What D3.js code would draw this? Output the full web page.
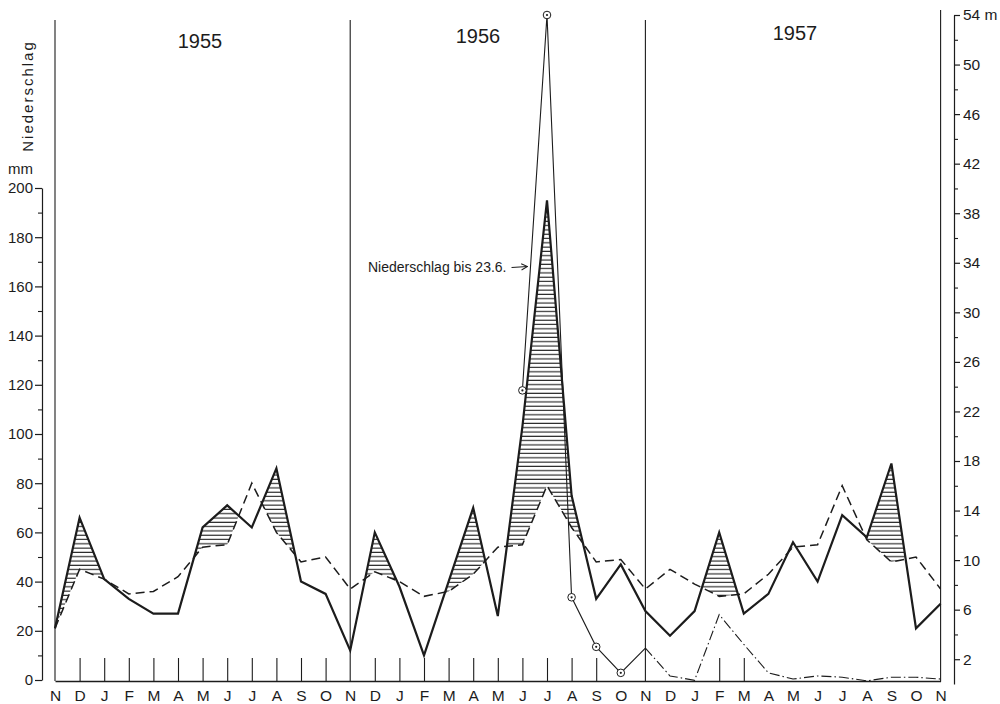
<!DOCTYPE html>
<html>
<head>
<meta charset="utf-8">
<script src="https://cdn.jsdelivr.net/npm/d3@7"></script>
<style>
  body { margin: 0; background: #fff; }
  svg { display: block; }
  text { font-family: "Liberation Sans", Arial, sans-serif; fill: #1c1c1c; }
</style>
</head>
<body>
<svg id="chart" width="1000" height="704"></svg>
<script>
"use strict";

/* ── Data: Nov 1954 … Nov 1957, one value per month ── */
const monthCycle = ["N","D","J","F","M","A","M","J","J","A","S","O"];
const months = [...monthCycle, ...monthCycle, ...monthCycle, "N"];

const years = ["1955", "1956", "1957"];

// monthly precipitation, mm (thick line)
const niederschlag = [21, 66, 41, 33, 27, 27, 62, 71, 62, 86, 40, 35,
                      12, 60, 38, 10, 40, 70, 26, 103, 195, 75, 33, 47,
                      28, 18, 28, 60, 27, 35, 56, 40, 67, 58, 88, 21, 31];

// long-term mean, mm (dashed line)
const mittel = [21, 45, 41, 35, 36, 42, 54, 55, 80, 60, 48, 50,
                37, 44, 40, 34, 36, 43, 54, 55, 79, 62, 48, 49,
                37, 45, 39, 34, 35, 43, 54, 55, 79, 57, 48, 50, 37];

// thin line, right axis in m (starts June 1956)
const pegel = [null, null, null, null, null, null, null, null, null, null, null, null,
               null, null, null, null, null, null, null, 23.7, 54, 7.0, 3.0, 0.9,
               2.9, 0.65, 0.3, 5.6, 3.2, 0.9, 0.4, 0.65, 0.55, 0.25, 0.55, 0.55, 0.4];

const leftTicks  = d3.range(0, 201, 20);
const leftMinor  = d3.range(10, 200, 20);
const rightTicks = d3.range(2, 55, 4);
const rightMinor = d3.range(4, 54, 4);

/* ── Setup ── */
const ink = "#1c1c1c";
const svg = d3.select("#chart");

const x  = d3.scaleLinear().domain([0, months.length - 1]).range([55, 940.6]);
const yL = d3.scaleLinear().domain([0, 200]).range([680, 188]);
const yR = d3.scaleLinear().domain([0, 54]).range([684, 15]);

const base = yL(0) + 1;

/* ── Hatch pattern ── */
const defs = svg.append("defs");
defs.append("pattern")
  .attr("id", "hatch")
  .attr("patternUnits", "userSpaceOnUse")
  .attr("width", 10).attr("height", 4.3)
  .append("line")
  .attr("x1", 0).attr("x2", 10).attr("y1", 2).attr("y2", 2)
  .attr("stroke", ink).attr("stroke-width", 1.1);

defs.append("clipPath").attr("id", "below-solid")
  .append("path")
  .attr("d", d3.area().x((d, i) => x(i)).y0(base).y1(d => yL(d))(niederschlag));

/* ── Year separators ── */
[0, 12, 24, 36].forEach((m, k) => {
  svg.append("line")
    .attr("x1", x(m)).attr("x2", x(m))
    .attr("y1", k === 3 ? 10 : 20).attr("y2", base)
    .attr("stroke", ink).attr("stroke-width", 1.1);
});

svg.selectAll(".year")
  .data(years)
  .join("text")
  .attr("class", "year")
  .attr("x", (d, i) => [200, 478, 795][i])
  .attr("y", (d, i) => [48, 43, 40][i])
  .attr("text-anchor", "middle")
  .attr("font-size", "20px")
  .text(d => d);

/* ── Bottom axis (baseline + month letters) ── */
svg.append("g")
  .attr("transform", `translate(0,${base})`)
  .call(d3.axisBottom(x).tickValues(d3.range(months.length)).tickSize(0).tickSizeOuter(0)
    .tickPadding(9).tickFormat(i => months[i]))
  .call(g => {
    g.select(".domain").attr("stroke", ink).attr("stroke-width", 1.4);
    g.selectAll(".tick text").attr("font-size", "15.5px").attr("fill", ink);
  });

// short upward month marks
svg.append("g")
  .attr("transform", `translate(0,${base})`)
  .call(d3.axisBottom(x)
    .tickValues([1,2,3,4,5,6,7,8,9,10,11,13,14,15,16,17,18,19,20,21,22,27,28])
    .tickSize(-23).tickSizeOuter(0).tickFormat(""))
  .call(g => {
    g.select(".domain").remove();
    g.selectAll(".tick line").attr("stroke", ink).attr("stroke-width", 1.1);
  });

/* ── Left axis ── */
svg.append("g")
  .attr("transform", "translate(42,0)")
  .call(d3.axisLeft(yL).tickValues(leftTicks).tickSize(7).tickSizeOuter(0).tickPadding(2))
  .call(g => {
    g.select(".domain").attr("stroke", ink).attr("stroke-width", 1.2);
    g.selectAll(".tick line").attr("stroke", ink).attr("stroke-width", 1.2);
    g.selectAll(".tick text").attr("font-size", "15px").attr("fill", ink);
  });
svg.append("g")
  .attr("transform", "translate(42,0)")
  .call(d3.axisLeft(yL).tickValues(leftMinor).tickSize(4).tickSizeOuter(0).tickFormat(""))
  .call(g => {
    g.select(".domain").remove();
    g.selectAll(".tick line").attr("stroke", ink).attr("stroke-width", 1.1);
  });

svg.append("text")
  .attr("x", 8).attr("y", 174)
  .attr("font-size", "15px")
  .text("mm");

svg.append("text")
  .attr("transform", "translate(33,96) rotate(-90)")
  .attr("text-anchor", "middle")
  .attr("font-size", "15px")
  .attr("letter-spacing", "2px")
  .text("Niederschlag");

/* ── Right axis ── */
svg.append("g")
  .attr("transform", "translate(954,0)")
  .call(d3.axisRight(yR).tickValues(rightTicks).tickSize(6).tickSizeOuter(0).tickPadding(3)
    .tickFormat(d => d === 54 ? "54 m" : d))
  .call(g => {
    g.select(".domain").attr("stroke", ink).attr("stroke-width", 1.2);
    g.selectAll(".tick line").attr("stroke", ink).attr("stroke-width", 1.2);
    g.selectAll(".tick text").attr("font-size", "15.5px").attr("fill", ink);
  });
svg.append("g")
  .attr("transform", "translate(954,0)")
  .call(d3.axisRight(yR).tickValues(rightMinor).tickSize(4).tickSizeOuter(0).tickFormat(""))
  .call(g => {
    g.select(".domain").remove();
    g.selectAll(".tick line").attr("stroke", ink).attr("stroke-width", 1.1);
  });

/* ── Hatched surplus (precipitation above mean) ── */
svg.append("path")
  .attr("clip-path", "url(#below-solid)")
  .attr("fill", "url(#hatch)")
  .attr("d", d3.area().x((d, i) => x(i)).y0(d => yL(d)).y1(0)(mittel));

/* ── Mean (dashed) ── */
svg.append("path")
  .attr("fill", "none")
  .attr("stroke", ink).attr("stroke-width", 1.5)
  .attr("stroke-dasharray", "9,5")
  .attr("d", d3.line().x((d, i) => x(i)).y(d => yL(d))(mittel));

/* ── Precipitation (thick) ── */
svg.append("path")
  .attr("fill", "none")
  .attr("stroke", ink).attr("stroke-width", 2.2)
  .attr("stroke-linejoin", "miter")
  .attr("d", d3.line().x((d, i) => x(i)).y(d => yL(d))(niederschlag));

/* ── Thin line, right axis ── */
const thin = d3.line().x((d, i) => x(i)).y(d => yR(d));
svg.append("path")
  .attr("fill", "none")
  .attr("stroke", ink).attr("stroke-width", 1.1)
  .attr("d", thin.defined((d, i) => d != null && i <= 24)(pegel));
svg.append("path")
  .attr("fill", "none")
  .attr("stroke", ink).attr("stroke-width", 1.1)
  .attr("stroke-dasharray", "10,3,1.5,3")
  .attr("d", thin.defined((d, i) => d != null && i >= 24)(pegel));

const marked = pegel.map((d, i) => ({ v: d, i })).filter(p => p.v != null && p.i <= 23);
svg.selectAll(".mk")
  .data(marked)
  .join("circle")
  .attr("class", "mk")
  .attr("cx", p => x(p.i)).attr("cy", p => yR(p.v))
  .attr("r", 3.8)
  .attr("fill", "#fff").attr("stroke", ink).attr("stroke-width", 1);
svg.selectAll(".mkdot")
  .data(marked)
  .join("circle")
  .attr("class", "mkdot")
  .attr("cx", p => x(p.i)).attr("cy", p => yR(p.v))
  .attr("r", 1.1)
  .attr("fill", ink);

/* ── Annotation ── */
const t = 0.33;
const tipX = x(19) + (x(20) - x(19)) * t - 3;
const tipY = yR(pegel[19]) + (yR(pegel[20]) - yR(pegel[19])) * t;

defs.append("marker")
  .attr("id", "arrow")
  .attr("viewBox", "0 0 10 10").attr("refX", 9).attr("refY", 5)
  .attr("markerWidth", 7).attr("markerHeight", 7).attr("orient", "auto")
  .append("path").attr("d", "M1,1 L9,5 L1,9").attr("fill", "none")
  .attr("stroke", ink).attr("stroke-width", 1.3);

svg.append("line")
  .attr("x1", tipX - 16).attr("y1", tipY + 1).attr("x2", tipX).attr("y2", tipY)
  .attr("stroke", ink).attr("stroke-width", 1.1)
  .attr("marker-end", "url(#arrow)");

svg.append("text")
  .attr("x", tipX - 21).attr("y", tipY + 5)
  .attr("text-anchor", "end")
  .attr("font-size", "14px")
  .text("Niederschlag bis 23.6.");
</script>
</body>
</html>
